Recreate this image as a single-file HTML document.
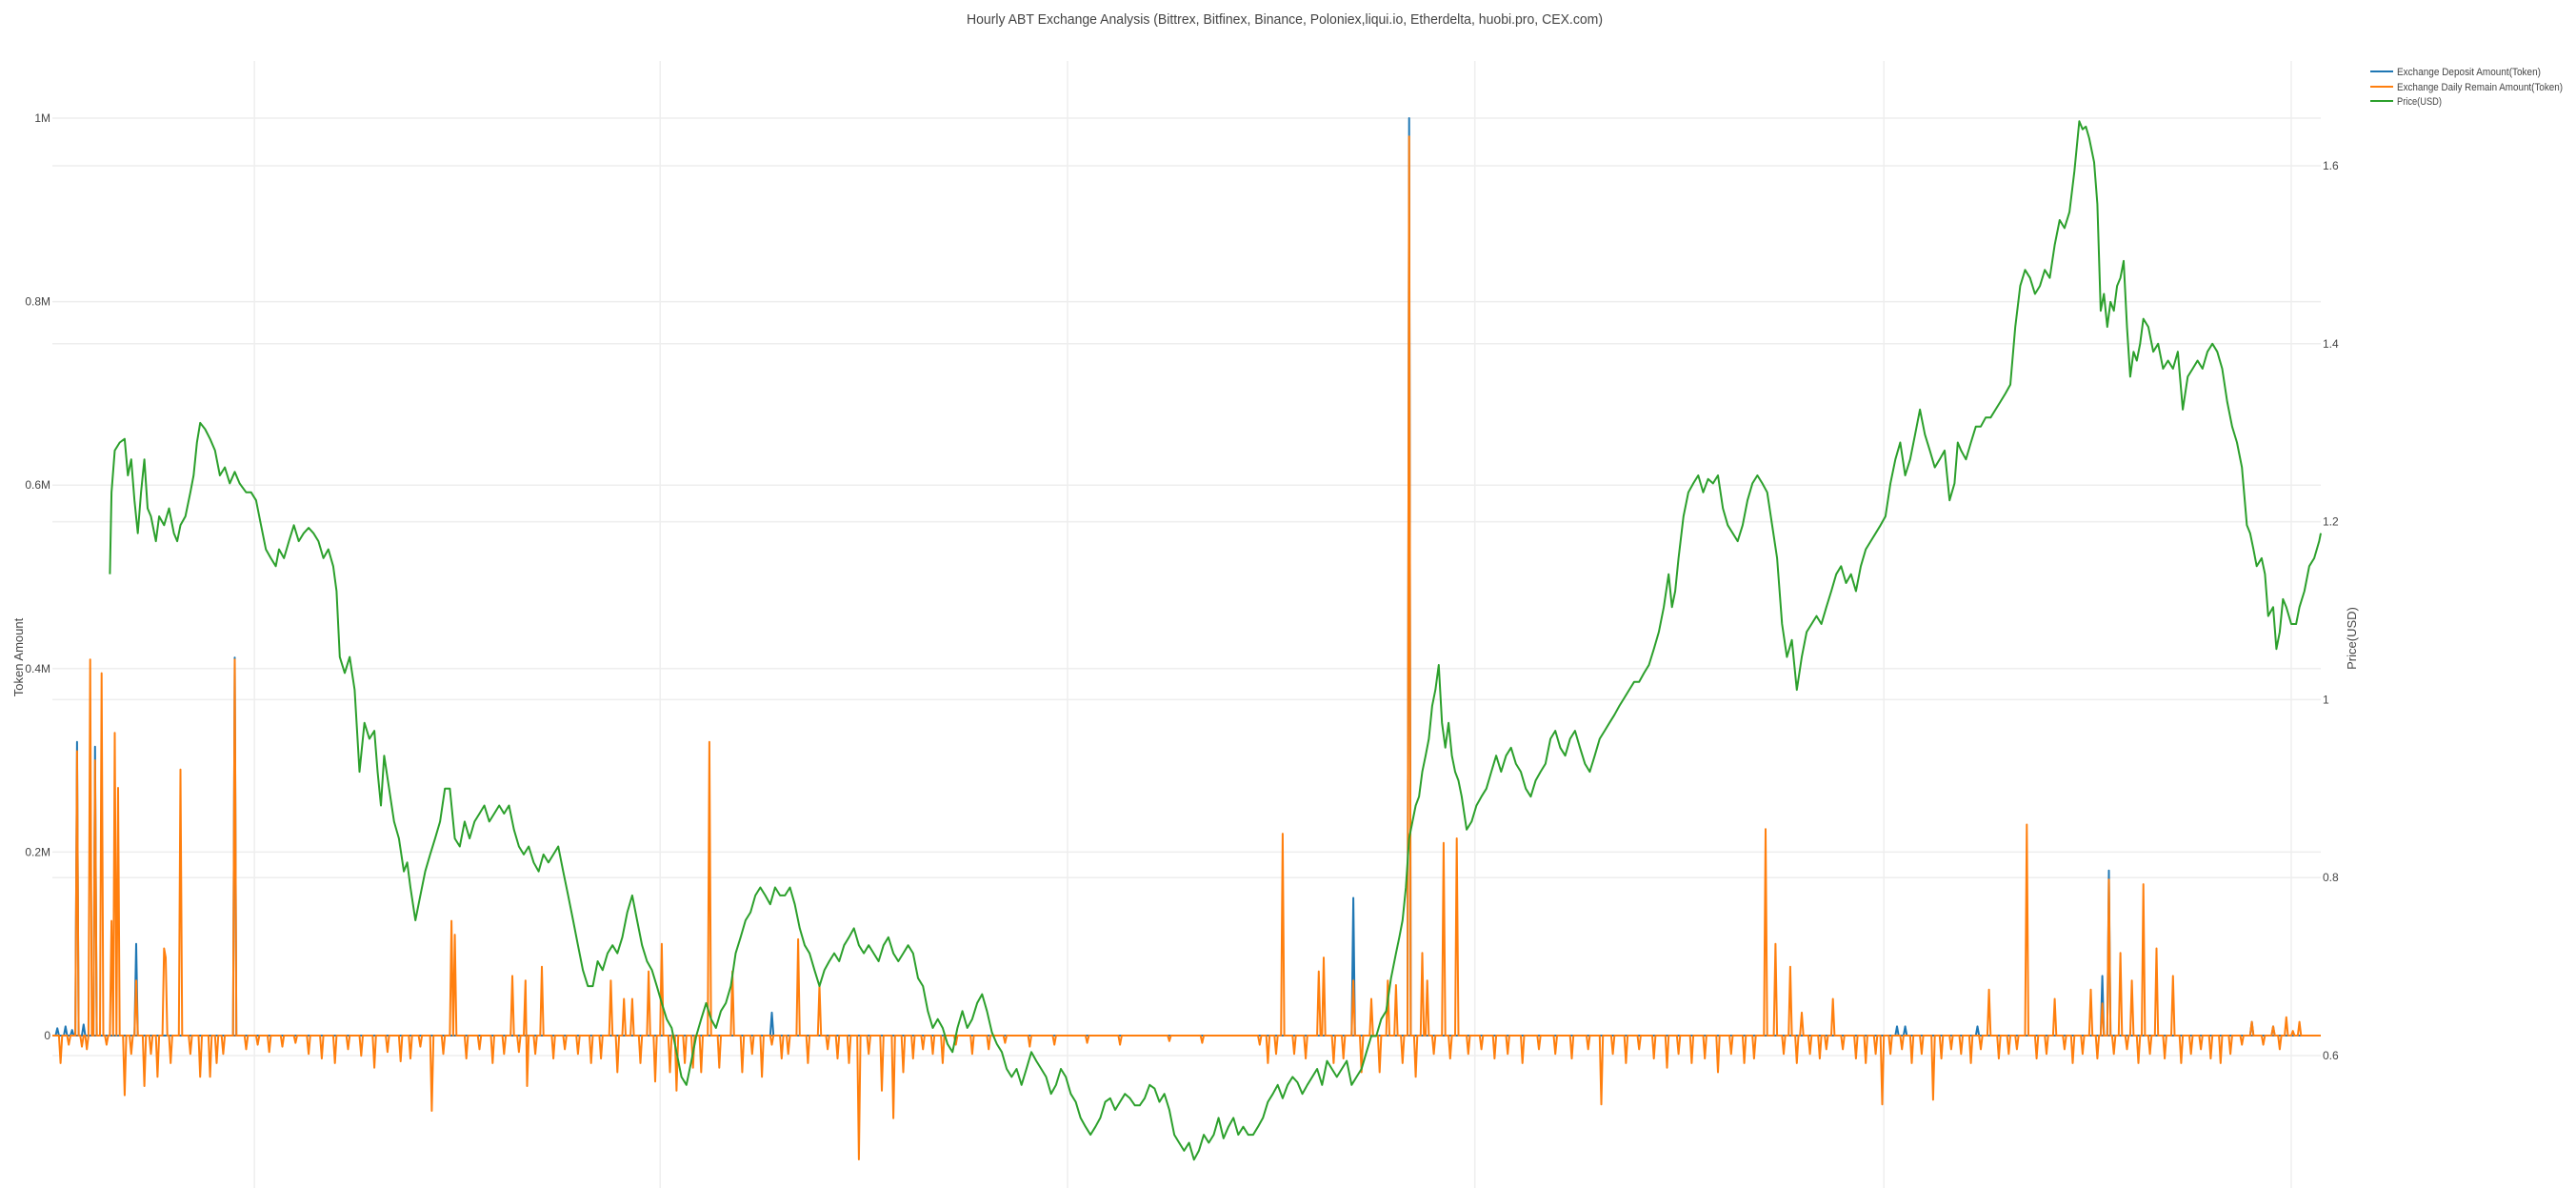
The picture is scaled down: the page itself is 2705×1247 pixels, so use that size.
<!DOCTYPE html>
<html><head><meta charset="utf-8"><title>Hourly ABT Exchange Analysis</title>
<style>html,body{margin:0;padding:0;background:#fff;}svg{display:block;font-family:"Liberation Sans",sans-serif;}</style>
</head><body>
<svg id="chart" width="2705" height="1247" viewBox="0 0 2705 1247" xmlns="http://www.w3.org/2000/svg">
<text x="1349" y="25" text-anchor="middle" font-size="15" fill="#444" textLength="668" lengthAdjust="spacingAndGlyphs">Hourly ABT Exchange Analysis (Bittrex, Bitfinex, Binance, Poloniex,liqui.io, Etherdelta, huobi.pro, CEX.com)</text>
<g id="grid"></g>
<g id="series"></g>
<g id="axes"></g>
<text transform="translate(24,690) rotate(-90)" text-anchor="middle" font-size="13" fill="#444">Token Amount</text>
<text transform="translate(2474,670) rotate(-90)" text-anchor="middle" font-size="13" fill="#444">Price(USD)</text>
<g>
  <g><line x1="2489" y1="75" x2="2513" y2="75" stroke="#1f77b4" stroke-width="2"/><text x="2517" y="79" font-size="11" fill="#444" textLength="151" lengthAdjust="spacingAndGlyphs">Exchange Deposit Amount(Token)</text></g>
  <g><line x1="2489" y1="91" x2="2513" y2="91" stroke="#ff7f0e" stroke-width="2"/><text x="2517" y="95" font-size="11" fill="#444" textLength="174" lengthAdjust="spacingAndGlyphs">Exchange Daily Remain Amount(Token)</text></g>
  <g><line x1="2489" y1="106" x2="2513" y2="106" stroke="#2ca02c" stroke-width="2"/><text x="2517" y="110" font-size="11" fill="#444" textLength="47" lengthAdjust="spacingAndGlyphs">Price(USD)</text></g>
</g>
</svg>
<script>
const tokenTicks = [0, 200000, 400000, 600000, 800000, 1000000];
const tokenTickLabels = ["0", "0.2M", "0.4M", "0.6M", "0.8M", "1M"];
const priceTicks = [0.6, 0.8, 1.0, 1.2, 1.4, 1.6];
const priceTickLabels = ["0.6", "0.8", "1", "1.2", "1.4", "1.6"];
const timeTicks = [123, 370, 618, 866, 1115, 1363];
const totalHours = 1381;

const priceHours = [35,36,38,41,44,46,48,50,52,54,56,58,60,63,65,68,71,74,76,78,81,84,86,88,90,93,96,99,102,105,108,111,114,118,121,124,127,130,133,136,138,141,144,147,150,153,156,159,162,165,168,171,173,175,178,181,184,187,190,193,196,198,200,202,205,208,211,214,216,218,221,224,227,230,233,236,239,242,245,248,251,254,257,260,263,266,269,272,275,278,281,284,287,290,293,296,299,302,305,308,311,314,317,320,323,326,329,332,335,338,341,344,347,350,353,356,359,362,365,368,371,374,377,380,383,386,389,392,395,398,401,404,407,410,413,416,419,422,425,428,431,434,437,440,443,446,449,452,455,458,461,464,467,470,473,476,479,482,485,488,491,494,497,500,503,506,509,512,515,518,521,524,527,530,533,536,539,542,545,548,551,554,557,560,563,566,569,572,575,578,581,584,587,590,593,596,599,602,605,608,611,614,617,620,623,626,629,632,635,638,641,644,647,650,653,656,659,662,665,668,671,674,677,680,683,686,689,692,695,698,701,704,707,710,713,716,719,722,725,728,731,734,737,740,743,746,749,752,755,758,761,764,767,770,773,776,779,782,785,788,791,794,797,800,803,806,809,812,815,818,820,822,824,826,828,830,832,834,836,838,840,842,844,846,848,850,852,854,856,858,861,864,867,870,873,876,879,882,885,888,891,894,897,900,903,906,909,912,915,918,921,924,927,930,933,936,939,942,945,948,951,954,957,960,963,966,969,972,975,978,981,984,986,988,990,993,996,999,1002,1005,1008,1011,1014,1017,1020,1023,1026,1029,1032,1035,1038,1041,1044,1047,1050,1053,1056,1059,1062,1065,1068,1071,1074,1077,1080,1083,1086,1089,1092,1095,1098,1101,1104,1107,1110,1113,1116,1119,1122,1125,1128,1131,1134,1137,1140,1143,1146,1149,1152,1155,1158,1160,1162,1165,1168,1171,1174,1177,1180,1183,1186,1189,1192,1195,1198,1201,1204,1207,1210,1213,1216,1219,1222,1225,1228,1231,1234,1236,1238,1240,1243,1245,1247,1249,1251,1253,1255,1257,1259,1261,1263,1265,1267,1269,1271,1273,1276,1279,1282,1285,1288,1291,1294,1297,1300,1303,1306,1309,1312,1315,1318,1321,1324,1327,1330,1333,1336,1338,1340,1342,1345,1347,1349,1352,1354,1356,1358,1360,1363,1366,1368,1371,1374,1377,1380,1381];
const priceValues = [1.141,1.233,1.280,1.289,1.293,1.252,1.270,1.224,1.187,1.233,1.270,1.215,1.206,1.178,1.206,1.196,1.215,1.187,1.178,1.196,1.206,1.233,1.252,1.289,1.311,1.304,1.293,1.280,1.252,1.261,1.243,1.256,1.243,1.233,1.233,1.224,1.196,1.169,1.159,1.150,1.169,1.159,1.178,1.196,1.178,1.187,1.193,1.187,1.178,1.159,1.169,1.150,1.122,1.048,1.030,1.048,1.011,0.919,0.974,0.956,0.965,0.919,0.881,0.937,0.900,0.863,0.844,0.807,0.817,0.789,0.752,0.780,0.807,0.826,0.844,0.863,0.900,0.900,0.844,0.835,0.863,0.844,0.863,0.872,0.881,0.863,0.872,0.881,0.872,0.881,0.854,0.835,0.826,0.835,0.817,0.807,0.826,0.817,0.826,0.835,0.807,0.780,0.752,0.724,0.696,0.678,0.678,0.706,0.696,0.715,0.724,0.715,0.733,0.761,0.780,0.752,0.724,0.706,0.696,0.678,0.659,0.641,0.631,0.604,0.576,0.567,0.594,0.622,0.641,0.659,0.641,0.631,0.650,0.659,0.678,0.715,0.733,0.752,0.761,0.780,0.789,0.780,0.770,0.789,0.780,0.780,0.789,0.770,0.743,0.724,0.715,0.696,0.678,0.696,0.706,0.715,0.706,0.724,0.733,0.743,0.724,0.715,0.724,0.715,0.706,0.724,0.733,0.715,0.706,0.715,0.724,0.715,0.687,0.678,0.650,0.631,0.641,0.631,0.613,0.604,0.631,0.650,0.631,0.641,0.659,0.669,0.650,0.626,0.613,0.604,0.585,0.576,0.585,0.567,0.585,0.604,0.594,0.585,0.576,0.557,0.567,0.585,0.576,0.557,0.548,0.530,0.520,0.511,0.520,0.530,0.548,0.552,0.539,0.548,0.557,0.552,0.544,0.544,0.552,0.567,0.563,0.548,0.557,0.539,0.511,0.502,0.493,0.502,0.483,0.493,0.511,0.502,0.511,0.530,0.507,0.520,0.530,0.511,0.520,0.511,0.511,0.520,0.530,0.548,0.557,0.567,0.552,0.567,0.576,0.570,0.557,0.567,0.576,0.585,0.567,0.594,0.585,0.576,0.585,0.594,0.567,0.576,0.585,0.604,0.622,0.622,0.641,0.650,0.687,0.715,0.733,0.752,0.789,0.844,0.863,0.881,0.891,0.919,0.937,0.956,0.993,1.011,1.039,0.974,0.946,0.974,0.937,0.919,0.909,0.891,0.854,0.863,0.881,0.891,0.900,0.919,0.937,0.919,0.937,0.946,0.928,0.919,0.900,0.891,0.909,0.919,0.928,0.956,0.965,0.946,0.937,0.956,0.965,0.946,0.928,0.919,0.937,0.956,0.965,0.974,0.983,0.993,1.002,1.011,1.020,1.020,1.030,1.039,1.057,1.076,1.104,1.141,1.104,1.122,1.159,1.206,1.233,1.243,1.252,1.233,1.248,1.243,1.252,1.215,1.196,1.187,1.178,1.196,1.224,1.243,1.252,1.243,1.233,1.196,1.159,1.085,1.048,1.067,1.011,1.048,1.076,1.085,1.094,1.085,1.104,1.122,1.141,1.150,1.131,1.141,1.122,1.150,1.169,1.178,1.187,1.196,1.206,1.243,1.270,1.289,1.252,1.270,1.298,1.326,1.298,1.280,1.261,1.270,1.280,1.224,1.243,1.289,1.280,1.270,1.289,1.307,1.307,1.317,1.317,1.326,1.335,1.344,1.354,1.419,1.465,1.483,1.474,1.456,1.465,1.483,1.474,1.511,1.539,1.530,1.548,1.594,1.650,1.641,1.644,1.631,1.604,1.557,1.437,1.456,1.419,1.447,1.437,1.465,1.474,1.493,1.419,1.363,1.391,1.381,1.400,1.428,1.419,1.391,1.400,1.372,1.381,1.372,1.391,1.326,1.363,1.372,1.381,1.372,1.391,1.400,1.391,1.372,1.335,1.307,1.289,1.261,1.196,1.187,1.169,1.150,1.159,1.141,1.094,1.104,1.057,1.076,1.113,1.104,1.085,1.085,1.104,1.122,1.150,1.159,1.178,1.187];

const remainHours = [5,10,15,18,21,23,26,30,33,36,
 38,40,44,48,51,56,60,64,68,69,
 72,78,84,90,96,100,104,111,118,125,
 132,140,148,156,164,172,180,188,196,204,
 212,218,224,231,238,243,245,252,260,268,
 275,280,284,288,289,294,298,305,312,320,
 328,334,340,344,348,353,358,363,367,371,
 376,380,385,390,395,400,406,414,420,426,
 432,438,444,448,454,460,467,472,478,485,
 491,497,505,512,518,524,530,536,542,550,
 560,570,580,595,610,630,650,680,700,735,
 740,745,749,756,763,771,774,780,786,792,
 797,803,808,813,818,822,826,830,834,837,
 841,847,851,855,862,870,878,886,895,905,
 915,925,935,943,950,958,966,975,983,990,
 998,1006,1014,1022,1030,1036,1043,1049,1054,1058,
 1062,1065,1070,1076,1080,1084,1090,1098,1104,1110,
 1114,1119,1126,1132,1138,1145,1150,1156,1162,1168,
 1174,1179,1185,1191,1196,1202,1208,1214,1219,1225,
 1230,1236,1241,1245,1248,1252,1255,1259,1263,1266,
 1270,1273,1277,1281,1286,1291,1296,1302,1308,1314,
 1320,1326,1333,1339,1346,1352,1356,1360,1364,1368];
const remainValues = [-30,-10,310,-12,-15,410,300,395,-10,125,
 330,270,-65,-20,60,-55,-20,-45,95,85,
 -30,290,-20,-45,-45,-30,-20,410,-15,-10,
 -18,-12,-8,-20,-25,-30,-15,-22,-35,-18,
 -28,-25,-12,-82,-20,125,110,-25,-15,-30,
 -20,65,-18,60,-55,-20,75,-25,-15,-20,
 -30,-25,60,-40,40,40,-30,70,-50,100,
 -40,-60,-30,-35,-40,320,-35,70,-40,-20,
 -45,-10,-25,-20,105,-30,55,-15,-25,-30,
 -135,-20,-60,-90,-40,-25,-15,-20,-30,-10,
 -20,-15,-8,-12,-10,-8,-10,-6,-8,-10,
 -30,-20,220,-20,-25,70,85,-30,-25,60,
 -40,40,-40,60,55,-30,980,-45,90,60,
 -20,210,-25,215,-20,-15,-25,-20,-30,-15,
 -20,-25,-15,-75,-20,-30,-15,-25,-35,-20,
 -30,-25,-40,-20,-30,-25,225,100,-20,75,
 -30,25,-20,-25,-15,40,-15,-25,-30,-20,
 -75,-20,-15,-30,-20,-70,-25,-15,-20,-30,
 -15,50,-25,-20,-15,230,-25,-20,40,-15,
 -30,-20,50,-25,35,170,-20,90,-15,60,
 -30,165,-20,95,-25,65,-30,-20,-15,-25,
 -30,-20,-10,15,-10,10,-15,20,5,15];
const depositHours = [3,8,12,15,19,26,51,111,438,792,826,1123,1128,1172,1248,1252,1339,1352];
const depositValues = [8,10,6,320,12,315,100,412,25,150,1000,10,10,10,65,180,15,10];

const X0 = 55, X1 = 2437, PT = 64, PB = 1247;
function xScale(h){ return X0 + (X1 - X0) * h / totalHours; }
function yToken(v){ return 1087 - v * 963 / 1000000; }
function yPrice(p){ return 1108 - (p - 0.6) * 934 / 1.0; }
const NS = "http://www.w3.org/2000/svg";
const grid = document.getElementById('grid');
const axes = document.getElementById('axes');
const series = document.getElementById('series');

timeTicks.forEach(function(t){
  const l = document.createElementNS(NS,'line');
  
  
  l.setAttribute('x1', xScale(t)); l.setAttribute('x2', xScale(t));
  l.setAttribute('y1', PT); l.setAttribute('y2', PB);
  l.setAttribute('stroke', '#eee'); l.setAttribute('stroke-width', '1.5');
  grid.appendChild(l);
});
tokenTicks.forEach(function(v, i){
  const y = yToken(v);
  if (v !== 0) {
    const l = document.createElementNS(NS,'line');
    
    
    l.setAttribute('x1', X0); l.setAttribute('x2', X1);
    l.setAttribute('y1', y); l.setAttribute('y2', y);
    l.setAttribute('stroke', '#eee'); l.setAttribute('stroke-width', '1.5');
    grid.appendChild(l);
  }
  const t = document.createElementNS(NS,'text');
  
  
  t.setAttribute('x', X0 - 2); t.setAttribute('y', y + 4);
  t.setAttribute('text-anchor', 'end'); t.setAttribute('font-size', '12'); t.setAttribute('fill', '#444');
  t.textContent = tokenTickLabels[i];
  axes.appendChild(t);
});
priceTicks.forEach(function(p, i){
  const y = yPrice(p);
  const l = document.createElementNS(NS,'line');
  
  
  l.setAttribute('x1', X0); l.setAttribute('x2', X1);
  l.setAttribute('y1', y); l.setAttribute('y2', y);
  l.setAttribute('stroke', '#eee'); l.setAttribute('stroke-width', '1.5');
  grid.appendChild(l);
  const t = document.createElementNS(NS,'text');
  
  
  t.setAttribute('x', X1 + 2); t.setAttribute('y', y + 4);
  t.setAttribute('font-size', '12'); t.setAttribute('fill', '#444');
  t.textContent = priceTickLabels[i];
  axes.appendChild(t);
});
const zl = document.createElementNS(NS,'line');


zl.setAttribute('x1', X0); zl.setAttribute('x2', X1);
zl.setAttribute('y1', yToken(0)); zl.setAttribute('y2', yToken(0));
zl.setAttribute('stroke', '#444'); zl.setAttribute('stroke-width', '1.5');
grid.appendChild(zl);

function tokenPath(hours, values){
  const full = new Array(totalHours + 1).fill(0);
  hours.forEach(function(h, i){ full[h] = values[i] * 1000; });
  let d = '';
  full.forEach(function(v, h){ d += (h ? 'L' : 'M') + xScale(h).toFixed(1) + ',' + yToken(v).toFixed(1); });
  return d;
}
function addPath(d, color, name){
  const p = document.createElementNS(NS,'path');
  
  
  p.setAttribute('d', d); p.setAttribute('fill', 'none');
  p.setAttribute('stroke', color); p.setAttribute('stroke-width', '2');
  p.setAttribute('stroke-linejoin', 'round');
  series.appendChild(p);
}
addPath(tokenPath(depositHours, depositValues), '#1f77b4', 'deposit-line');
addPath(tokenPath(remainHours, remainValues), '#ff7f0e', 'remain-line');
let pd = '';
priceHours.forEach(function(h, i){ pd += (i ? 'L' : 'M') + xScale(h).toFixed(1) + ',' + yPrice(priceValues[i]).toFixed(1); });
addPath(pd, '#2ca02c', 'price-line');
</script>
</body></html>
